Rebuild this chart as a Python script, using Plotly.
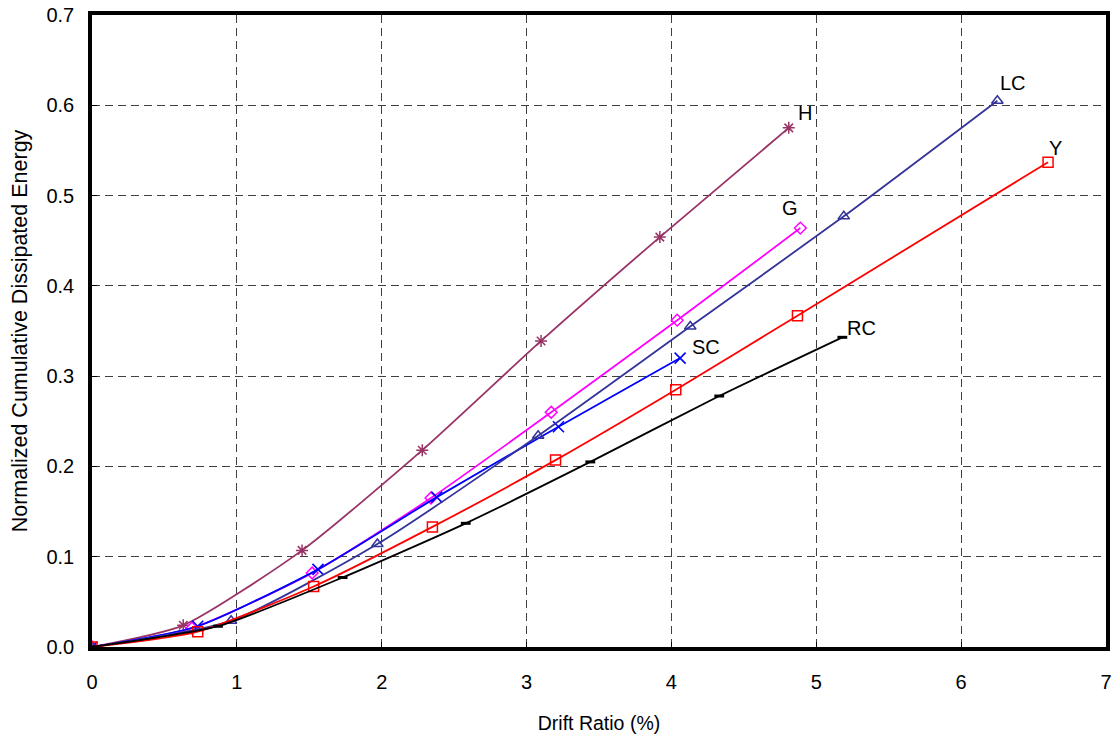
import plotly.graph_objects as go

h_x = [0, 0.63, 1.45, 2.28, 3.10, 3.92, 4.81]
h_y = [0, 0.024, 0.107, 0.218, 0.339, 0.454, 0.575]
g_x = [0, 0.69, 1.52, 2.34, 3.17, 4.04, 4.89]
g_y = [0, 0.021, 0.082, 0.165, 0.260, 0.362, 0.464]
sc_x = [0, 0.73, 1.56, 2.38, 3.22, 4.06]
sc_y = [0, 0.023, 0.086, 0.166, 0.244, 0.320]
lc_x = [0, 0.96, 1.97, 3.08, 4.13, 5.19, 6.25]
lc_y = [0, 0.029, 0.114, 0.234, 0.355, 0.477, 0.605]
y_x = [0, 0.73, 1.53, 2.35, 3.20, 4.03, 4.87, 6.60]
y_y = [0, 0.017, 0.067, 0.133, 0.207, 0.285, 0.367, 0.537]
rc_x = [0, 0.87, 1.73, 2.58, 3.44, 4.33, 5.18]
rc_y = [0, 0.023, 0.077, 0.137, 0.205, 0.278, 0.343]

series = [
    ("H", h_x, h_y, "#993366", "asterisk-open", 10, 1.5),
    ("G", g_x, g_y, "#FF00FF", "diamond-open", 9, 1.5),
    ("SC", sc_x, sc_y, "#0000FF", "x-thin-open", 11, 1.6),
    ("LC", lc_x, lc_y, "#333399", "triangle-up-open", 10, 1.5),
    ("Y", y_x, y_y, "#FF0000", "square-open", 10, 1.5),
    ("RC", rc_x, rc_y, "#000000", "line-ew-open", 7, 3),
]

fig = go.Figure()
for name, xs, ys, col, sym, sz, mw in series:
    fig.add_trace(go.Scatter(
        x=xs, y=ys, name=name, mode="lines+markers",
        line=dict(color=col, width=1.8, shape="spline", smoothing=0.6),
        marker=dict(symbol=sym, size=sz, color=col, line=dict(color=col, width=mw)),
        showlegend=False))

labels = [("H", 4.92, 0.591), ("G", 4.82, 0.486), ("LC", 6.36, 0.625),
          ("Y", 6.65, 0.553), ("SC", 4.24, 0.332), ("RC", 5.31, 0.353)]
for t, x, y in labels:
    fig.add_annotation(x=x, y=y, text=t, showarrow=False,
                       font=dict(family="Liberation Sans, Arial", size=20, color="black"))

fig.update_layout(
    width=1118, height=734,
    margin=dict(l=92, r=12, t=15, b=87, autoexpand=False),
    plot_bgcolor="white", paper_bgcolor="white",
    font=dict(family="Liberation Sans, Arial", size=20, color="black"),
)
grid = dict(showgrid=True, gridcolor="#404040", griddash="8px,5px", gridwidth=1,
            showline=True, linecolor="black", linewidth=3.5, mirror=True, zeroline=False,
            ticks="inside", ticklen=5, tickcolor="black", tickwidth=1, automargin=False)
fig.update_xaxes(
    range=[0, 7], tick0=0, dtick=1, ticklabelstandoff=14, **grid,
    title=dict(text="Drift Ratio (%)", font=dict(family="Liberation Sans, Arial", size=19.5), standoff=26),
)
fig.update_yaxes(
    range=[0, 0.7], tick0=0, dtick=0.1, tickformat=".1f", ticklabelstandoff=10, **grid,
    title=dict(text="Normalized Cumulative Dissipated Energy", font=dict(family="Liberation Sans, Arial", size=21.5), standoff=14),
)
fig.write_html("out.html", config={"displayModeBar": False},
               post_script="document.body.style.margin='0';")
